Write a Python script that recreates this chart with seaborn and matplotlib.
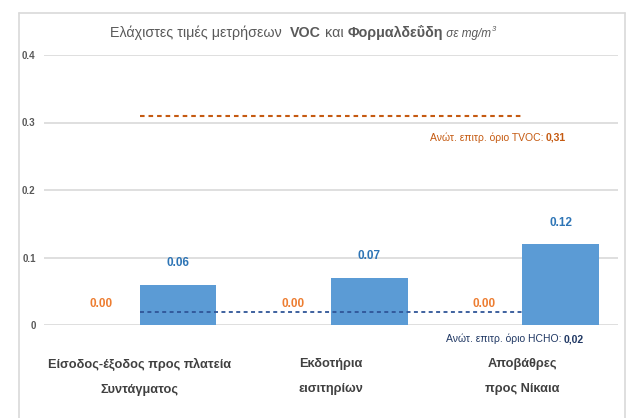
import matplotlib
matplotlib.use("Agg")
import matplotlib.pyplot as plt
import seaborn as sns
import pandas as pd
from matplotlib.lines import Line2D

categories = ["Είσοδος-έξοδος προς πλατεία\nΣυντάγματος", "Εκδοτήρια\nεισιτηρίων", "Αποβάθρες\nπρος Νίκαια"]
hcho_values = [0.00, 0.00, 0.00]
voc_values = [0.06, 0.07, 0.12]
tvoc_limit = [0.31, 0.31, 0.31]
hcho_limit = [0.02, 0.02, 0.02]
yticks = [0, 0.1, 0.2, 0.3, 0.4]
ytick_labels = ["0", "0.1", "0.2", "0.3", "0.4"]

sns.set_theme(style="white")
FONT = ["Liberation Sans", "DejaVu Sans"]
plt.rcParams["font.family"] = FONT

df = pd.DataFrame({
    "cat": categories * 2,
    "series": ["HCHO"] * 3 + ["VOC"] * 3,
    "value": hcho_values + voc_values,
})

fig = plt.figure(figsize=(6.27, 4.18), dpi=100)
W, H = 627, 418
ax = fig.add_axes([44 / W, (H - 325) / H, (618 - 44) / W, (325 - 55) / H])

sns.barplot(data=df, x="cat", y="value", hue="series", hue_order=["HCHO", "VOC"],
            order=categories, palette={"HCHO": "#ED7D31", "VOC": "#5B9BD5"},
            width=0.8, saturation=1, ax=ax, legend=False, zorder=2, edgecolor="none")

ax.set_ylim(0, 0.4)
ax.set_xlim(-0.5, 2.5)
ax.set_yticks(yticks)
ax.set_yticklabels(ytick_labels)
for s in ax.spines.values():
    s.set_visible(False)
ax.grid(axis="y", color="#D9D9D9", lw=1.2, zorder=0)
ax.set_axisbelow(True)
ax.set_xlabel("")
ax.set_ylabel("")
ax.tick_params(axis="y", length=0, pad=6, labelsize=7, labelcolor="#595959")
ax.tick_params(axis="x", length=0, pad=24, labelsize=9.2, labelcolor="#404040")
for t in ax.get_yticklabels():
    t.set_fontweight("bold")
for t in ax.get_xticklabels():
    t.set_fontweight("bold")
    t.set_linespacing(2.4)

# bar labels
conts = ax.containers
ax.bar_label(conts[0], fmt="%.2f", padding=11, color="#ED7D31", fontsize=8.5, fontweight="bold")
ax.bar_label(conts[1], fmt="%.2f", padding=11, color="#2E75B6", fontsize=8.5, fontweight="bold")

# limit lines
xs = list(range(len(categories)))
ax.plot(xs, tvoc_limit, ls=(0, (2.2, 1.9)), color="#C55A11", lw=1.5, zorder=3)
ax.plot(xs, hcho_limit, ls=(0, (2.2, 1.9)), color="#2F5597", lw=1.3, zorder=3)

fig.canvas.draw()
renderer = fig.canvas.get_renderer()


def rich_text(parts, x, y, ha="left", **common):
    """parts: list of (text, dict) ; x,y in figure pixels (baseline, from bottom)."""
    texts = []
    cur = x
    for s, kw in parts:
        opts = dict(common)
        opts.update(kw)
        t = fig.text(cur / W, y / H, s, ha="left", va="baseline", **opts)
        bb = t.get_window_extent(renderer)
        cur += bb.width
        texts.append(t)
    if ha == "right":
        total = cur - x
        for t in texts:
            px, py = t.get_position()
            t.set_position((px - total / W, py))
    return texts

# title
tt = rich_text([
    ("Ελάχιστες τιμές μετρήσεων  ", dict()),
    ("VOC", dict(fontweight="bold")),
    (" και ", dict()),
    ("Φορμαλδεΰδη", dict(fontweight="bold")),
    (" σε mg/m", dict(style="italic", fontsize=8.5)),
], 110, H - 37, color="#595959", fontsize=10.3)
end_x = tt[-1].get_window_extent(renderer).x1
fig.text((end_x + 1) / W, (H - 31) / H, "3", color="#595959", fontsize=5.5, style="italic")

# limit annotations
rich_text([
    ("Ανώτ. επιτρ. όριο TVOC: ", dict()),
    ("0,31", dict(fontweight="bold")),
], 566, H - 141, ha="right", color="#C55A11", fontsize=7.5)
rich_text([
    ("Ανώτ. επιτρ. όριο HCHO: ", dict()),
    ("0,02", dict(fontweight="bold")),
], 584, H - 342, ha="right", color="#203864", fontsize=7.5)

# chart frame
fc = "#D9D9D9"
fig.add_artist(Line2D([19 / W, 19 / W], [0, (H - 13) / H], color=fc, lw=1.2, transform=fig.transFigure))
fig.add_artist(Line2D([19 / W, 625 / W], [(H - 13) / H, (H - 13) / H], color=fc, lw=1.2, transform=fig.transFigure))
fig.add_artist(Line2D([625 / W, 625 / W], [0, (H - 13) / H], color=fc, lw=1.2, transform=fig.transFigure))

fig.savefig("out.png", dpi=100)
